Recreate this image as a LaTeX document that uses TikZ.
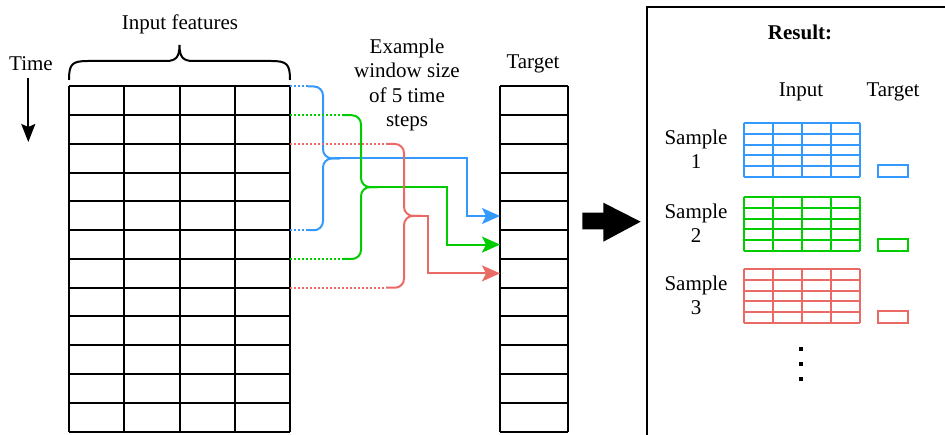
\documentclass[tikz,border=0pt]{standalone}
\usepackage{fontspec}
\setmainfont{Liberation Serif}
\usetikzlibrary{arrows.meta}
\definecolor{cblue}{HTML}{3399FF}
\definecolor{cgreen}{HTML}{00CC00}
\definecolor{cred}{HTML}{EA6B66}
\tikzset{
  txt/.style={font=\fontsize{21pt}{24.5pt}\selectfont, inner sep=0pt, align=center},
  gridline/.style={line width=2pt, black},
  dotpart/.style={line width=2pt, dash pattern=on 2pt off 2pt},
  solidpart/.style={line width=2pt, rounded corners=9pt},
  arrpart/.style={line width=2pt, -{Stealth[length=18pt,width=16pt,inset=4pt]}},
}
\begin{document}
\begin{tikzpicture}[x=1pt,y=-1pt]
\useasboundingbox (0,0) rectangle (945,435);
% left grid
\foreach \i in {0,...,12} {\draw[gridline] (69,86.5+\i*28.75) -- (290,86.5+\i*28.75);}
\foreach \x in {69,124.25,179.5,234.75,290} {\draw[gridline] (\x,86.5) -- (\x,431.5);}
% target column
\foreach \i in {0,...,12} {\draw[gridline] (500,86.5+\i*28.75) -- (568,86.5+\i*28.75);}
\foreach \x in {500,568} {\draw[gridline] (\x,86.5) -- (\x,431.5);}
% texts
\node[txt] (inputfeat) at (180,24) {Input features};
\node[txt] (time) at (31,64) {Time};
\node[txt] (example) at (407,85) {Example\\window size\\of 5 time\\steps};
\node[txt] (target) at (533,64) {Target};
% brace
\draw[line width=2pt] (69,80) .. controls (69,64) and (72,61) .. (88,61) -- (166,61)
  .. controls (176,61) and (179.5,57) .. (179.5,45)
  .. controls (179.5,57) and (183,61) .. (193,61) -- (271,61)
  .. controls (287,61) and (290,64) .. (290,80);
% time arrow
\coordinate (ta) at (28.3,78);
\coordinate (tb) at (28.3,142);
\draw[line width=2pt, -{Stealth[length=18pt,width=14pt,inset=3pt]}] (ta) -- (tb);
% blue connector
\coordinate (b1) at (290,86.5);   \coordinate (b1d) at (308,86.5);
\coordinate (b2) at (290,230.25); \coordinate (b2d) at (308,230.25);
\coordinate (bt) at (500,216);
\draw[dotpart, cblue] (b1) -- (b1d);
\draw[dotpart, cblue] (b2) -- (b2d);
\draw[solidpart, cblue] (b1d) -- (323,86.5) -- (323,158.4) -- (340,158.4);
\draw[solidpart, cblue] (b2d) -- (323,230.25) -- (323,158.4) -- (340,158.4);
\draw[arrpart, cblue] (335,158.4) -- (466.7,158.4) -- (466.7,216) -- (bt);
% green connector
\coordinate (g1) at (290,115.25);   \coordinate (g1d) at (343,115.25);
\coordinate (g2) at (290,259);      \coordinate (g2d) at (343,259);
\coordinate (gt) at (500,244.6);
\draw[dotpart, cgreen] (g1) -- (g1d);
\draw[dotpart, cgreen] (g2) -- (g2d);
\draw[solidpart, cgreen] (g1d) -- (361,115.25) -- (361,187.1) -- (378,187.1);
\draw[solidpart, cgreen] (g2d) -- (361,259) -- (361,187.1) -- (378,187.1);
\draw[arrpart, cgreen] (373,187.1) -- (446.7,187.1) -- (446.7,244.6) -- (gt);
% red connector
\coordinate (r1) at (290,144);     \coordinate (r1d) at (386,144);
\coordinate (r2) at (290,287.75);  \coordinate (r2d) at (386,287.75);
\coordinate (rt) at (500,273.4);
\draw[dotpart, cred] (r1) -- (r1d);
\draw[dotpart, cred] (r2) -- (r2d);
\draw[solidpart, cred] (r1d) -- (404,144) -- (404,215.9) -- (421,215.9);
\draw[solidpart, cred] (r2d) -- (404,287.75) -- (404,215.9) -- (421,215.9);
\draw[arrpart, cred] (416,215.9) -- (427.7,215.9) -- (427.7,273.4) -- (rt);
% big arrow
\fill[black] (582.3,212.7) -- (603.3,212.7) -- (603.3,202.7) -- (640.7,221.7) -- (603.3,241.7) -- (603.3,229.3) -- (582.3,229.3) -- cycle;
% result box
\draw[line width=2pt] (647,436) -- (647,7.5) -- (946,7.5);
\node[txt, font=\fontsize{21pt}{24.5pt}\selectfont\bfseries] (result) at (800,32) {Result:};
\node[txt] (rin) at (801,92) {Input};
\node[txt] (rtg) at (893,92) {Target};
\node[txt] (s1) at (696,149) {Sample\\1};
\node[txt] (s2) at (696,223) {Sample\\2};
\node[txt] (s3) at (696,295.5) {Sample\\3};
% result grids
\foreach \col/\yt in {cblue/123.3, cgreen/197.3, cred/269.3} {
  \foreach \i in {0,...,5} {\draw[\col, line width=2pt] (744,\yt+\i*10.68) -- (860,\yt+\i*10.68);}
  \foreach \x in {744,773,802,831,860} {\draw[\col, line width=2pt] (\x,\yt) -- (\x,\yt+53.4);}
  \draw[\col, line width=2pt] (878,\yt+42.1) rectangle (907.7,\yt+53.4);
}
% dots
\foreach \y in {349.3,364,379.3} {\fill[black] (799.3,\y-1.8) rectangle (802.7,\y+1.8);}
\end{tikzpicture}
\end{document}
